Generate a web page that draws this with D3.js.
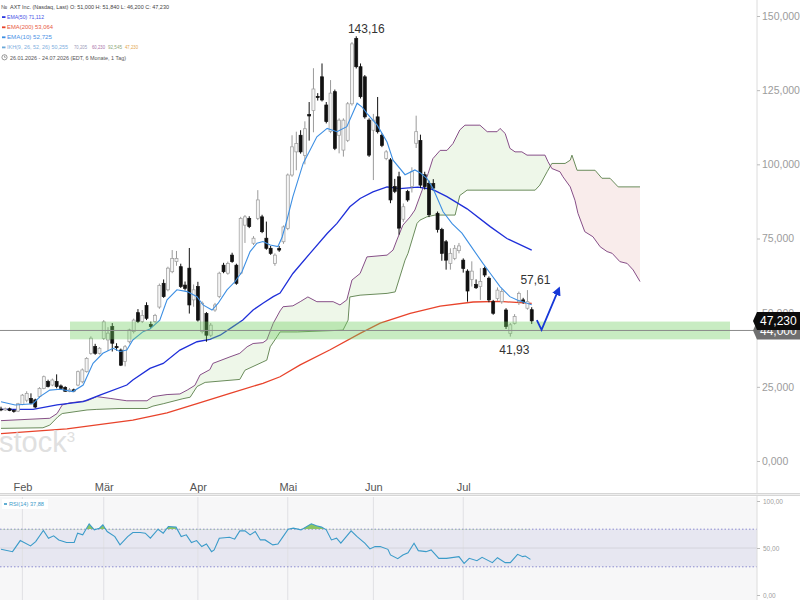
<!DOCTYPE html>
<html>
<head>
<meta charset="utf-8">
<script src="https://cdn.jsdelivr.net/npm/d3@7"></script>
<style>
  body { margin: 0; background: #fff; }
  svg { display: block; font-family: "Liberation Sans", Arial, sans-serif; }
</style>
</head>
<body>
<svg id="chart" width="800" height="600"></svg>
<script>
// --- 1. data (day index 0 = 26.01.2026) ---
const opens  = [17.5,17.2,17.6,17.0,16.8,19.0,20.5,21.1,20.6,21.7,24.5,26.8,25.6,26.8,25.3,24.8,23.5,24.0,25.6,26.7,
  30.1,36.3,38.6,36.3,41.3,40.8,45.3,38.6,37.4,33.5,40.2,43.6,50.0,47.0,52.4,46.0,47.0,51.9,59.9,57.7,
  63.8,67.2,65.5,59.3,65.0,54.3,58.8,43.6,49.7,42.4,50.9,55.4,66.0,63.3,69.4,66.0,63.3,79.5,81.8,73.4,
  81.8,82.3,75.1,71.7,66.6,71.6,73.9,78.4,96.4,104.2,109.8,103.0,116.8,118.1,122.9,129.5,120.0,111.1,124.5,109.8,
  104.8,108.1,120.4,142.4,132.9,129.5,114.9,111.5,116.0,109.8,102.0,101.5,92.5,95.8,81.5,90.8,92.5,107.1,108.0,96.5,
  93.6,93.5,83.5,78.0,73.9,66.6,68.3,70.9,67.7,64.0,61.2,59.5,58.8,64.9,61.6,53.7,54.8,53.7,50.9,43.0,
  46.4,53.7,54.3,51.5,51.0];
const highs  = [18.3,18.0,18.0,17.4,19.6,22.6,23.5,22.8,21.0,24.9,28.8,27.4,27.8,29.2,25.8,25.2,24.6,24.4,30.5,31.2,
  35.0,42.0,39.5,38.4,47.5,45.1,46.5,39.7,37.9,39.1,44.6,48.0,51.2,50.9,53.5,47.0,49.6,59.8,61.2,65.5,
  71.1,70.8,66.5,60.5,71.8,59.5,60.4,53.8,50.2,46.5,53.3,63.8,66.8,67.2,70.2,66.5,82.3,82.9,82.5,75.8,
  91.3,83.0,80.7,72.5,70.0,72.5,79.4,96.9,109.8,111.0,111.5,114.5,121.0,132.4,124.0,134.0,121.0,128.4,125.2,115.5,
  115.5,121.0,141.2,143.16,134.0,130.1,115.5,117.0,122.7,110.4,104.8,102.1,95.1,97.5,86.8,91.4,99.0,116.4,110.0,97.5,
  94.5,95.0,84.1,78.6,74.5,71.7,72.8,73.5,68.3,64.6,67.3,61.2,65.0,65.5,62.2,54.3,58.5,58.0,51.5,46.5,
  49.5,57.1,55.0,57.61,51.84];
const lows   = [16.8,16.9,16.8,16.3,16.5,18.8,19.8,19.1,17.8,21.2,24.2,24.8,25.2,24.5,24.3,23.3,23.2,23.2,25.2,26.2,
  29.8,35.8,35.8,35.9,40.8,37.1,36.9,37.2,32.0,31.9,39.6,43.0,46.5,46.5,47.5,44.8,46.5,51.3,55.0,57.2,
  63.3,65.8,58.3,57.5,49.7,52.0,47.0,43.0,40.2,41.8,50.3,54.9,63.3,62.8,66.8,59.4,62.8,73.5,78.5,72.8,
  81.2,76.8,71.2,69.5,65.8,70.5,73.2,77.8,95.8,98.0,103.6,100.0,108.0,110.8,121.5,121.2,113.8,110.5,104.8,103.7,
  102.6,107.5,119.8,132.3,122.2,115.4,102.5,94.7,110.4,105.8,101.4,86.9,90.3,76.3,80.6,87.4,90.5,105.5,92.0,91.5,
  82.2,91.0,77.0,67.5,64.5,64.5,67.7,70.0,63.5,53.7,58.8,58.0,54.3,62.0,53.5,49.3,54.0,53.0,44.5,41.93,
  46.0,52.6,53.0,51.0,46.2];
const closes = [17.2,17.6,17.0,16.8,19.3,22.2,22.8,19.5,18.2,24.5,28.4,25.1,27.3,25.1,24.5,23.5,24.0,23.6,30.1,30.7,
  34.6,41.4,36.3,38.0,46.9,43.1,39.7,38.2,32.3,38.5,44.2,47.5,47.0,49.1,48.1,45.3,49.1,59.2,55.4,65.0,
  68.3,68.3,58.8,58.2,52.6,57.7,47.5,53.2,42.4,45.8,52.6,63.3,63.8,66.6,67.2,59.9,81.8,82.3,79.0,75.1,
  88.0,77.3,71.7,70.0,69.4,71.1,78.9,96.4,105.9,107.0,104.2,112.0,116.3,125.4,122.5,121.7,114.4,124.0,105.4,114.9,
  114.9,120.4,140.6,132.9,122.8,116.0,103.1,114.9,111.0,106.4,104.2,88.0,90.9,78.5,85.7,88.0,97.5,111.0,93.0,92.5,
  83.0,92.0,78.0,70.0,67.7,70.0,71.7,72.5,64.9,57.3,64.0,58.4,60.5,62.7,54.3,49.8,57.6,57.1,45.3,45.9,
  48.7,56.5,53.7,53.7,47.23];

// indicator lines as [day index, value] pairs
const ema10 = [[0,20],[3.3,18.9],[7.5,19.3],[9.1,21.7],[11.4,23.9],[13.8,24.2],[16.8,23.4],[19.2,25.6],[21.5,32.9],
  [23.8,36.3],[26.2,38],[27.8,36.9],[29.4,37.4],[30.8,40.8],[33.2,43.6],[34.8,44.5],[37.1,47.5],[38.8,54.3],
  [41.1,57.7],[43.5,57.1],[45.8,55.4],[47.2,52.6],[49.3,50.9],[50.7,53.1],[52.8,57.7],[54.7,60.5],[56.3,63.8],
  [58.2,70.6],[59.8,73.4],[61.2,74],[62.9,72.8],[64.7,72.3],[65.7,75.5],[66.8,81.2],[68.2,89.1],[70.6,100.3],
  [73.8,109.3],[76.2,112.1],[78.5,111],[80.8,112.7],[83.2,120.6],[84.3,119.4],[85.5,117.2],[87.9,113.2],
  [90.2,107.5],[91.6,101.4],[94.4,96.5],[96.7,98.1],[97.9,97.2],[99.5,95.3],[100.9,92],[103.3,84],[105.4,80],
  [107.7,76.8],[110,72],[112.6,66.6],[114.3,63.3],[116.6,58.8],[118.9,55.4],[120.6,54.3],[124,52.7]];
const ema50 = [[0,17.4],[7.5,17.4],[13.1,18.9],[19.2,20],[23.1,22.2],[29.4,25.6],[30.8,27.3],[34.8,31.2],
  [37.9,32.9],[41.8,37.4],[45.8,40.2],[48.8,41],[51.2,42.4],[54.2,45.3],[56.5,47.5],[58.9,50.9],[61.2,53.2],
  [63.6,55.4],[65.2,56.6],[68.2,63.2],[72.2,70],[76.2,76.7],[78.5,80.1],[81.5,85.7],[83.9,88.5],[86.9,90.7],
  [90.2,92.4],[93.2,91.8],[97.4,92.3],[100.7,91.6],[104.2,89.1],[108.9,85],[114.3,79],[118.2,75],[124,71.1]];
const ema200 = [[0,9.2],[15.4,10.8],[30.8,13.8],[38.8,16.2],[45.8,19.3],[53.5,22.8],[61.2,26.2],[65.2,28.4],
  [69.9,32.4],[76.9,37.5],[83.9,43],[88.6,46.5],[95.6,49.8],[102.6,52.2],[110.3,53.6],[116.6,53.8],[124,53.1]];
const ikhPurple = [[0,13.6],[11.4,14.4],[13.1,16],[14.3,18.9],[16.1,19.6],[20.1,20.3],[22.4,21.7],[25.5,21.1],
  [29.4,20.3],[34.1,20.3],[35.5,21.7],[38.8,22.4],[41.8,22.6],[43.5,23.9],[45.3,25.5],[46.5,29],[48.8,30.8],
  [49.5,32.9],[53.5,35.1],[55.8,36.3],[57.5,38.5],[58.9,39.6],[61.2,39.9],[62.1,40.8],[63.6,46.4],[65.2,50.6],
  [65.9,52],[68.2,52.3],[69.9,53.7],[71.7,55.3],[73.8,53.7],[77.6,53.7],[79.2,52.6],[80.8,54.3],[82,61],
  [83.9,63.2],[85.5,68.8],[90.2,69.4],[91.6,71.1],[92.5,74.5],[93.9,79.5],[95.6,82.3],[96.7,84.6],[98.4,91.3],
  [99.8,96.9],[100.9,101.9],[102.6,104.7],[104.2,104.7],[105.6,107],[107.2,111.6],[108.4,113.2],[111.9,113.2],
  [113.6,111],[115.9,111],[116.6,112.1],[117.8,110.4],[118.9,105.4],[120.1,104.2],[121.7,104.2],[122.9,103.1],
  [127.1,103.1],[127.8,100.9],[128.7,98.6],[130.6,97.5],[131.3,95.8],[133,92.4],[134.1,87.9],[134.8,83.5],
  [136.4,77.3],[138.3,75.6],[140,72.2],[141.6,70.6],[142.8,70],[144.6,67.2],[146.3,66.6],[147.7,64.4],[149.3,60.5]];
const ikhGreen = [[0,11],[9.8,11.2],[11.4,12.1],[13.3,14.9],[14.3,16],[20.1,17.2],[22.4,17.4],[27.8,17.7],
  [34.1,17.7],[35.5,18.5],[37.9,19.3],[42.5,21],[44.2,21.5],[45.8,25.1],[47.7,26.5],[55.8,27.5],[57,30.6],
  [61.2,33.4],[62.1,34],[62.9,38.5],[64.5,41.9],[65.2,43.5],[69.2,43.5],[79.9,44.1],[81.1,47.5],[81.5,55.3],
  [83.9,55.9],[90.2,56.5],[92.1,57],[94.4,67.7],[95.1,70],[97.2,80.1],[97.9,81.2],[99.5,82.3],[101.4,82.9],
  [106.1,82.9],[107.2,89.5],[108.9,91.3],[124.8,91.3],[125.9,93],[127.6,97.5],[128.7,100.3],[131.8,100.3],
  [133,101.4],[133.4,103.1],[134.6,98],[138.8,98],[140.4,95.3],[142.3,95.3],[144.2,92.4],[149.3,92.4]];

// RSI(14) as [day index, value]
const rsi = [[0,48.6],[2.7,46.1],[4.5,57.9],[6.9,52.2],[8.1,56.8],[9.9,68.6],[11.1,60.4],[12.3,62.9],[13.5,58.6],
  [15.3,55.8],[17.1,55.8],[17.9,65.8],[19.1,64],[20.6,75.7],[21.8,69.3],[23,71.1],[23.8,74.7],[24.8,67.5],
  [26.6,62.1],[27.8,53.3],[29.6,62.1],[30.8,66.5],[32.5,66.5],[33.7,65.8],[34.9,60.4],[36.7,70],[37.9,65.8],
  [39.1,72.9],[40.9,72.2],[42.1,62.1],[43.3,64],[44.5,55.8],[45.7,57.9],[46.9,51.5],[48,54.3],[49.2,46.1],
  [49.8,47.9],[51,60.4],[53.4,61.5],[54.6,59.4],[55.8,68.2],[57,68.2],[58.2,64],[59.4,67.5],[60.6,58.6],
  [61.7,58.6],[63.5,53.3],[64.7,54.3],[65.9,62.1],[67.1,70],[68.3,71.1],[70.1,69.3],[72.5,75.7],[73.7,73.6],
  [74.9,72.2],[76,69.3],[77.2,58.6],[78.4,60.4],[79.4,55.1],[81.8,68.2],[83.2,62.1],[85,55.1],[86.2,49],
  [87.4,51.5],[88.6,51.5],[90.4,48.6],[91,42.6],[92.7,38.6],[93.9,42.6],[95.1,45],[96.5,55.1],[97.5,47.2],
  [99.3,46.1],[100.5,47.9],[102.3,39],[104.1,39],[107,40.8],[108.2,33.7],[109.4,39],[111.2,36.5],[112.4,40.1],
  [114.8,34.4],[116,39.7],[117.8,34.4],[119,34.4],[120.7,43.3],[121.9,40.8],[122.5,41.5],[123.7,37.88]];

// axis ticks and marks
const monthIdx = [5, 24, 46, 67, 87, 108];
const monthLabels = ["Feb", "Mär", "Apr", "Mai", "Jun", "Jul"];
const priceTicks = [0, 25, 50, 75, 100, 125, 150];
const rsiTicks = [0, 50, 100];
const zoneRange = [41.0, 47.0];
const supportLevel = 44.0;
const lastClose = 47.23;
const arrowPts = [[125.2, 47.5], [126.3, 44.2], [130.4, 58.3]];

// ichimoku legend values
const ikhLabels = ["IKH(9, 26, 52, 26) 50,255", "70,205", "60,230", "92,545", "47,230"];
const ikhColors = ["#7fb0e0", "#9a9ab8", "#a871a8", "#8ea77a", "#e3a64a"];

// --- 2. scales ---
const svg = d3.select("#chart");
const axisX = 757;
const x = d3.scaleLinear().domain([0, 150]).range([1, 643]);
const y = d3.scaleLinear().domain([0, 150]).range([461, 16]);
const yR = d3.scaleLinear().domain([0, 100]).range([595, 501]);
const de = d3.formatLocale({ decimal: ",", thousands: ".", grouping: [3], currency: ["", "€"] });
const f3 = de.format(".3f"), f2 = de.format(".2f");

const lineOf = (sy) => d3.line().x(d => x(d[0])).y(d => sy(d[1]));

// --- 3. rsi panel background ---
svg.append("rect").attr("x", 0).attr("y", 497).attr("width", axisX).attr("height", 103).attr("fill", "#f7f7f8");
svg.append("rect").attr("x", 0).attr("y", yR(70)).attr("width", axisX).attr("height", yR(30) - yR(70)).attr("fill", "#e7e7f1");
svg.append("g").selectAll("line").data(monthIdx).enter().append("line")
  .attr("x1", d => x(d)).attr("x2", d => x(d)).attr("y1", 497).attr("y2", 600)
  .attr("stroke", "#e0e0e4").attr("stroke-width", 1);
svg.append("line").attr("x1", 0).attr("x2", axisX).attr("y1", yR(50)).attr("y2", yR(50)).attr("stroke", "#d4d4dc");
[70, 30].forEach(v => svg.append("line").attr("x1", 0).attr("x2", axisX).attr("y1", yR(v)).attr("y2", yR(v))
  .attr("stroke", "#8c8cd0").attr("stroke-dasharray", "1.5,2").attr("stroke-width", 1));

// --- 4. ichimoku cloud (fills via clip paths) ---
const defs = svg.append("defs");
const below = d3.area().x(d => x(d[0])).y0(470).y1(d => y(d[1]));
const above = d3.area().x(d => x(d[0])).y0(0).y1(d => y(d[1]));
defs.append("clipPath").attr("id", "aboveGreen").append("path").attr("d", above(ikhGreen));
defs.append("clipPath").attr("id", "belowGreen").append("path").attr("d", below(ikhGreen));
svg.append("path").attr("d", below(ikhPurple)).attr("fill", "#eef7e9").attr("clip-path", "url(#aboveGreen)");
svg.append("path").attr("d", above(ikhPurple)).attr("fill", "#f9eceb").attr("clip-path", "url(#belowGreen)");
svg.append("path").attr("d", lineOf(y)(ikhGreen)).attr("fill", "none").attr("stroke", "#6b8c5c").attr("stroke-width", 1);
svg.append("path").attr("d", lineOf(y)(ikhPurple)).attr("fill", "none").attr("stroke", "#874f88").attr("stroke-width", 1);

// --- 5. moving averages + candles ---
svg.append("path").attr("d", lineOf(y)(ema200)).attr("fill", "none").attr("stroke", "#e8432b").attr("stroke-width", 1.3);
svg.append("path").attr("d", lineOf(y)(ema50)).attr("fill", "none").attr("stroke", "#1f2fd9").attr("stroke-width", 1.3);

const days = d3.range(closes.length);
const candle = svg.append("g").selectAll("g").data(days).enter().append("g");
candle.append("line")
  .attr("x1", i => x(i)).attr("x2", i => x(i))
  .attr("y1", i => y(highs[i])).attr("y2", i => y(lows[i]))
  .attr("stroke", i => closes[i] >= opens[i] ? "#9a9a9a" : "#111").attr("stroke-width", 1);
candle.append("rect")
  .attr("x", i => x(i) - 1.5).attr("width", 3)
  .attr("y", i => y(Math.max(opens[i], closes[i])))
  .attr("height", i => Math.max(0.8, Math.abs(y(opens[i]) - y(closes[i]))))
  .attr("fill", i => closes[i] >= opens[i] ? "#f5f5f5" : "#111")
  .attr("stroke", i => closes[i] >= opens[i] ? "#9a9a9a" : "#111").attr("stroke-width", 0.7);

svg.append("path").attr("d", lineOf(y)(ema10)).attr("fill", "none").attr("stroke", "#3d8fe3").attr("stroke-width", 1.1);

// --- 6. support zone, level line, annotations ---
svg.append("rect").attr("x", 70).attr("width", 660)
  .attr("y", y(zoneRange[1])).attr("height", y(zoneRange[0]) - y(zoneRange[1]))
  .attr("fill", "rgba(110, 205, 95, 0.38)");
svg.append("line").attr("x1", 0).attr("x2", axisX).attr("y1", y(supportLevel)).attr("y2", y(supportLevel))
  .attr("stroke", "#8a8a8a").attr("stroke-width", 1);

defs.append("marker").attr("id", "head").attr("viewBox", "0 0 10 10").attr("refX", 8).attr("refY", 5)
  .attr("markerWidth", 5).attr("markerHeight", 5).attr("orient", "auto")
  .append("path").attr("d", "M0,0L10,5L0,10z").attr("fill", "#1638d8");
svg.append("path").attr("d", lineOf(y)(arrowPts)).attr("fill", "none")
  .attr("stroke", "#1638d8").attr("stroke-width", 1.8).attr("marker-end", "url(#head)");

const hiIdx = closes.length - 42, loIdx = closes.length - 6, lastHiIdx = closes.length - 2;
const note = (tx, ty, t) => svg.append("text").attr("x", tx).attr("y", ty).attr("text-anchor", "middle")
  .attr("font-size", 12).attr("fill", "#333").text(t);
note(x(hiIdx) + 10, y(highs[hiIdx]) - 3, f2(highs[hiIdx]));
note(x(lastHiIdx) + 8, y(highs[lastHiIdx]) - 6, f2(highs[lastHiIdx]));
note(x(loIdx) + 4, y(lows[loIdx]) + 17, f2(lows[loIdx]));

// watermark
const wm = svg.append("text").attr("x", -1).attr("y", 452).attr("font-size", 29).attr("fill", "#e0e0e0");
wm.append("tspan").text("stock");
wm.append("tspan").attr("font-size", 15).attr("dy", -10).text("3");

// --- 7. rsi line ---
defs.append("clipPath").attr("id", "ob").append("rect").attr("x", 0).attr("y", 497).attr("width", axisX).attr("height", yR(70) - 497);
svg.append("path").attr("d", d3.area().x(d => x(d[0])).y0(yR(70)).y1(d => yR(d[1]))(rsi))
  .attr("fill", "#8cc564").attr("clip-path", "url(#ob)");
svg.append("path").attr("d", lineOf(yR)(rsi)).attr("fill", "none").attr("stroke", "#3b9bc9").attr("stroke-width", 1.1);
const rl = svg.append("g");
rl.append("rect").attr("x", 2).attr("y", 499).attr("width", 46).attr("height", 10).attr("fill", "#fff");
rl.append("rect").attr("x", 4).attr("y", 503.2).attr("width", 3).attr("height", 1.6).attr("fill", "#3b9bc9");
rl.append("text").attr("x", 9).attr("y", 506.3).attr("font-size", 6).attr("fill", "#3b9bc9")
  .attr("textLength", 35).attr("lengthAdjust", "spacingAndGlyphs")
  .text("RSI(14) " + f2(rsi[rsi.length - 1][1]));

// --- 8. axes ---
svg.append("line").attr("x1", axisX).attr("x2", axisX).attr("y1", 0).attr("y2", 600).attr("stroke", "#dcdcdc");
svg.append("rect").attr("x", 0).attr("y", 493).attr("width", 800).attr("height", 3).attr("fill", "#d6d6d6");
svg.append("line").attr("x1", 0).attr("x2", 800).attr("y1", 494.5).attr("y2", 494.5).attr("stroke", "#f4f4f4").attr("stroke-width", 0.8);

const yAxis = svg.append("g").attr("transform", `translate(${axisX},0)`)
  .call(d3.axisRight(y).tickValues(priceTicks).tickFormat(f3).tickSize(3).tickPadding(2));
yAxis.select(".domain").remove();
yAxis.selectAll("line").attr("stroke", "#bbb");
yAxis.selectAll("text").attr("fill", "#9c9c9c").attr("font-size", 10.5).attr("font-family", "Liberation Sans, Arial");

const rAxis = svg.append("g").attr("transform", `translate(${axisX},0)`)
  .call(d3.axisRight(yR).tickValues(rsiTicks).tickFormat(f2).tickSize(3).tickPadding(3));
rAxis.select(".domain").remove();
rAxis.selectAll("line").attr("stroke", "#bbb");
rAxis.selectAll("text").attr("fill", "#a0a0a0").attr("font-size", 6.5).attr("font-family", "Liberation Sans, Arial");

const xAxis = svg.append("g").attr("transform", "translate(0,480)")
  .call(d3.axisBottom(x).tickValues(monthIdx).tickFormat((d, i) => monthLabels[i]).tickSize(0).tickPadding(3));
xAxis.select(".domain").remove();
xAxis.selectAll("text").attr("fill", "#555").attr("font-size", 11).attr("font-family", "Liberation Sans, Arial");

// price tags on the axis (support tag sits partly under the last-price tag)
function tag(v, fill, label) {
  const cy = y(v);
  svg.append("path").attr("d", `M${axisX - 4},${cy} L${axisX},${cy - 9} L800,${cy - 9} L800,${cy + 9} L${axisX},${cy + 9} Z`)
    .attr("fill", fill);
  svg.append("text").attr("x", axisX + 3).attr("y", cy + 4.5).attr("font-size", 12).attr("fill", "#fff").text(label);
}
tag(supportLevel, "#6f6f6f", f3(supportLevel));
tag(lastClose, "#0c0c0c", f3(lastClose));

// --- 9. header legend ---
const hd = svg.append("g").attr("font-size", 5.8);
const label = (tx, ty, txt, color, width, fs) => hd.append("text").attr("x", tx).attr("y", ty).attr("fill", color)
  .attr("font-size", fs || 5.8)
  .attr("textLength", width).attr("lengthAdjust", "spacingAndGlyphs").text(txt);
const dash = (ty, color) => hd.append("rect").attr("x", 2).attr("y", ty - 2.8).attr("width", 3.5).attr("height", 1.8).attr("fill", color);
const n = closes.length - 1;
hd.append("text").attr("x", 1).attr("y", 8.8).attr("fill", "#666").text("№");
label(10, 8.8, "AXT Inc. (Nasdaq, Last)  O: " + f3(opens[n]) + "  H: " + f3(highs[n]) +
  "  L: " + f3(lows[n]) + "  C: " + f3(closes[n]), "#444", 159);
dash(19, "#2b3ae0"); label(7, 19, "EMA(50) 71,112", "#4650e6", 37);
dash(29.2, "#e8432b"); label(7, 29.2, "EMA(200) 53,064", "#e85a45", 46);
dash(39.2, "#3d8fe3"); label(7, 39.2, "EMA(10) 52,725", "#4a92e6", 45);
dash(49.3, "#6aa8d8");
const ikhX = [7, 74, 92, 108, 125], ikhW = [61, 13, 13, 14, 13];
ikhLabels.forEach((t, i) => label(ikhX[i], 49.3, t, ikhColors[i], ikhW[i], 4.8));
hd.append("circle").attr("cx", 4.5).attr("cy", 57.3).attr("r", 2.6).attr("fill", "none").attr("stroke", "#555").attr("stroke-width", 0.6);
hd.append("path").attr("d", "M4.5,55.7V57.3H5.8").attr("fill", "none").attr("stroke", "#555").attr("stroke-width", 0.5);
label(10, 59.5, "26.01.2026 - 24.07.2026  (EDT, 6 Monate, 1 Tag)", "#555", 116);
</script>
</body>
</html>
